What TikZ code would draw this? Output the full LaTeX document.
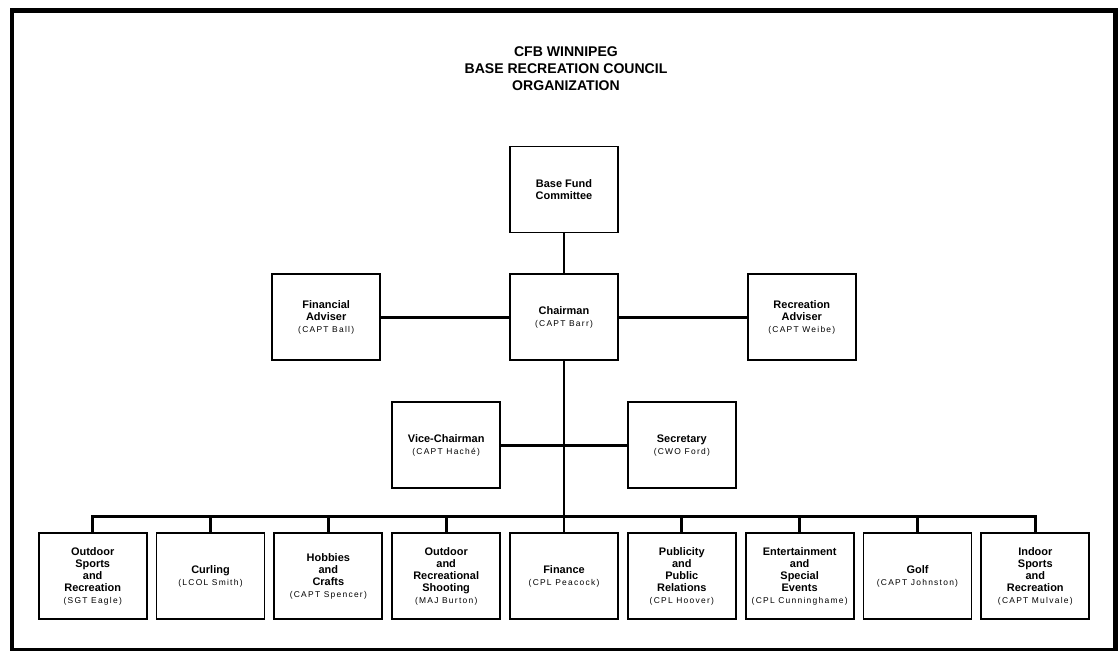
\documentclass[tikz,border=0pt]{standalone}
\usepackage{fontspec}
\setmainfont{Liberation Sans}
\newfontfamily\spacedfont[LetterSpace=15]{Liberation Sans}
\usetikzlibrary{positioning,calc}
\newcommand{\holder}[1]{\\{\spacedfont\mdseries\fontsize{6}{8.6}\selectfont(#1)}}

\begin{document}
\begin{tikzpicture}[
    node distance=1.0cm,
    unit/.style={rectangle, draw, line width=1.3pt, minimum width=2.7cm, minimum height=2.15cm, align=center, inner sep=1pt, font=\bfseries\fontsize{7.8}{8.6}\selectfont},
    link/.style={line width=2pt}
]
    \useasboundingbox (0,0) rectangle (28,-16.25);
    \draw[line width=3.5pt] (0.3,-0.27) rectangle (27.88,-16.25);

    \node (title) at (14.15,-1.72) [align=center, font=\bfseries\fontsize{10}{12}\selectfont] {CFB WINNIPEG\\BASE RECREATION COUNCIL\\ORGANIZATION};

    % bottom row
    \node (finance) [unit] at (14.1,-14.41) {Finance\holder{CPL Peacock}};
    \node (shooting) [unit, left=0.2cm of finance] {Outdoor\\and\\Recreational\\Shooting\holder{MAJ Burton}};
    \node (hobbies) [unit, left=0.2cm of shooting] {Hobbies\\and\\Crafts\holder{CAPT Spencer}};
    \node (curling) [unit, left=0.2cm of hobbies] {Curling\holder{LCOL Smith}};
    \node (outdoor) [unit, left=0.2cm of curling] {Outdoor\\Sports\\and\\Recreation\holder{SGT Eagle}};
    \node (publicity) [unit, right=0.2cm of finance] {Publicity\\and\\Public\\Relations\holder{CPL Hoover}};
    \node (entertain) [unit, right=0.2cm of publicity] {Entertainment\\and\\Special\\Events\holder{CPL Cunninghame}};
    \node (golf) [unit, right=0.2cm of entertain] {Golf\holder{CAPT Johnston}};
    \node (indoor) [unit, right=0.2cm of golf] {Indoor\\Sports\\and\\Recreation\holder{CAPT Mulvale}};

    % upper part
    \node (vice) [unit, above=1.08cm of shooting] {Vice-Chairman\holder{CAPT Haché}};
    \node (secretary) [unit, above=1.08cm of publicity] {Secretary\holder{CWO Ford}};
    \node (chair) [unit, above=4.28cm of finance] {Chairman\holder{CAPT Barr}};
    \node (fund) [unit, above=of chair] {Base Fund\\Committee};
    \node (finadv) [unit, left=3.2cm of chair] {Financial\\Adviser\holder{CAPT Ball}};
    \node (recadv) [unit, right=3.2cm of chair] {Recreation\\Adviser\holder{CAPT Weibe}};

    \coordinate (bus) at ($(finance.north)+(0,0.4)$);

    \draw[link] (fund) -- (chair);
    \draw[link] (finadv) -- (chair);
    \draw[link] (chair) -- (recadv);
    \draw[link] (chair) -- (finance);
    \draw[link] (vice) -- (secretary);
    \draw[link] (outdoor.north) |- (bus) -| (indoor.north);
    \foreach \n in {curling, hobbies, shooting, publicity, entertain, golf}
        \draw[link] (\n.north) -- (\n.north |- bus);
\end{tikzpicture}
\end{document}
